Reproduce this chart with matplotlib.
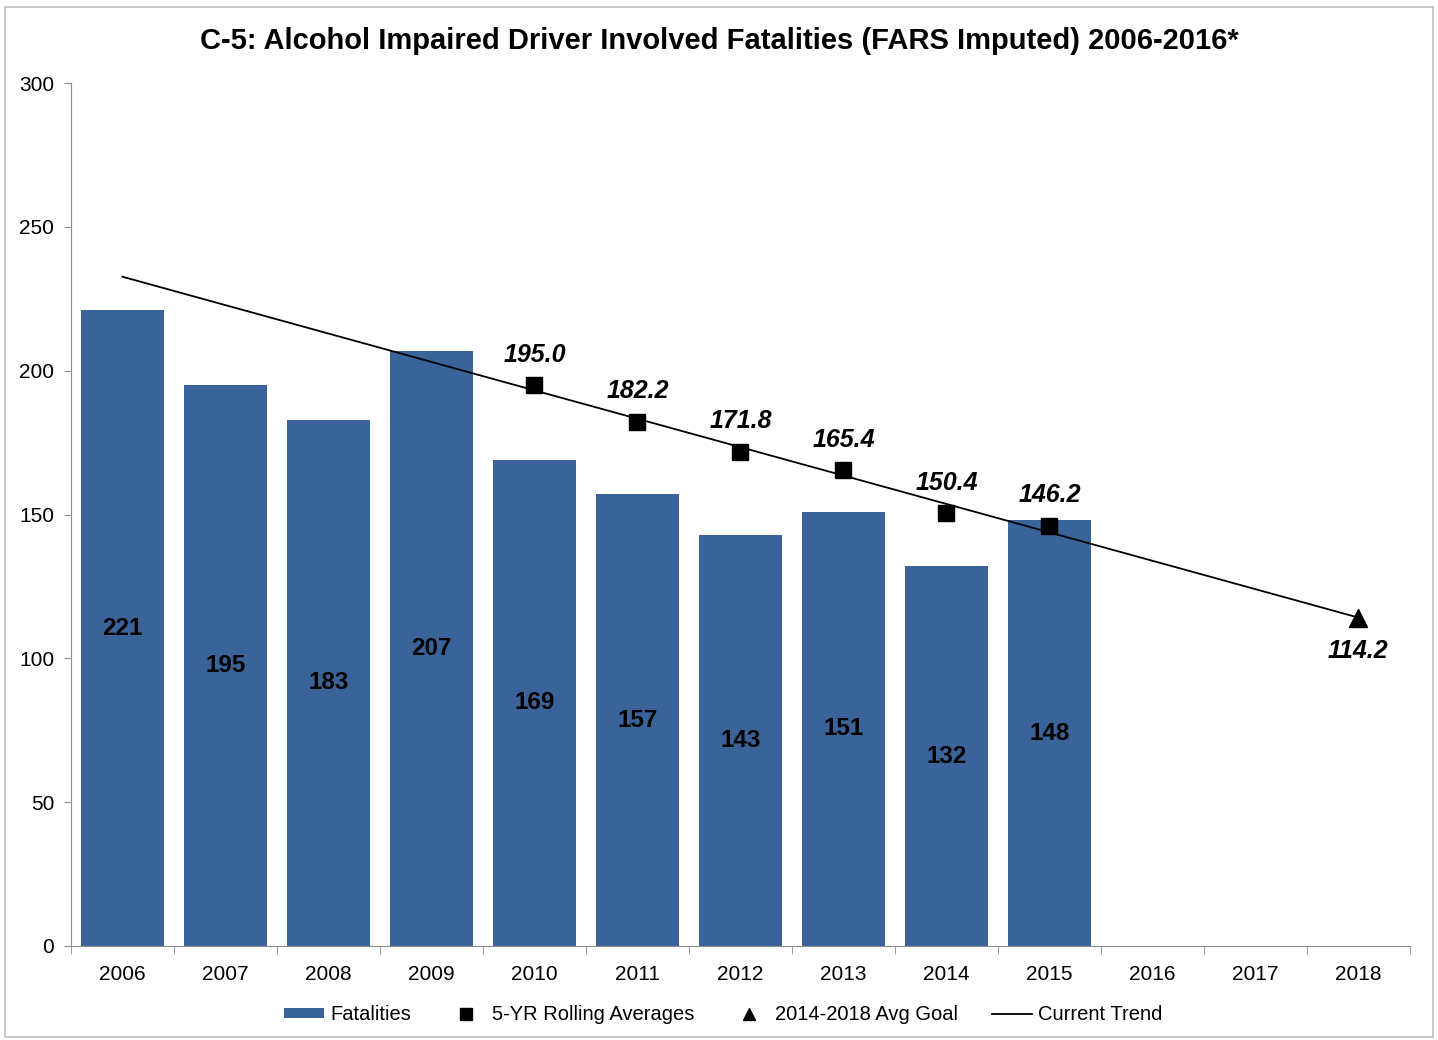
import matplotlib
matplotlib.use("Agg")
import matplotlib.pyplot as plt
from matplotlib.patches import Rectangle
import numpy as np

plt.rcParams['font.family'] = ['Liberation Sans', 'DejaVu Sans']

years = ['2006', '2007', '2008', '2009', '2010', '2011', '2012', '2013', '2014', '2015', '2016', '2017', '2018']
fatalities = [221, 195, 183, 207, 169, 157, 143, 151, 132, 148]
avg_years = ['2010', '2011', '2012', '2013', '2014', '2015']
rolling_avg = [195.0, 182.2, 171.8, 165.4, 150.4, 146.2]
goal_year = '2018'
goal = 114.2
trend_years = ['2006', '2018']
trend = [232.7, 114.2]

bar_color = '#3a6399'
spine_color = '#8c8c8c'

fig = plt.figure(figsize=(14.38, 10.4), dpi=100)
ax = fig.add_axes([0.0494, 0.0904, 0.931, 0.8296])

pos = {y: i for i, y in enumerate(years)}
xb = np.arange(len(fatalities))
ax.bar(xb, fatalities, 0.8, color=bar_color, zorder=2, label='Fatalities')
for x, v in zip(xb, fatalities):
    ax.text(x, v / 2, str(v), ha='center', va='center', fontsize=17.5, fontweight='bold', color='black', zorder=4)

xt = [pos[y] for y in trend_years]
ax.plot(xt, trend, color='black', lw=1.3, zorder=3, label='Current Trend')

xa = [pos[y] for y in avg_years]
ax.plot(xa, rolling_avg, ls='none', marker='s', ms=11, color='black', zorder=5, label='5-YR Rolling Averages')
for x, v in zip(xa, rolling_avg):
    ax.annotate(f'{v:.1f}', (x, v), xytext=(0, 22), textcoords='offset points', ha='center', va='center',
                fontsize=18, fontweight='bold', fontstyle='italic')

ax.plot([pos[goal_year]], [goal], ls='none', marker='^', ms=13, color='black', zorder=5, label='2014-2018 Avg Goal')
ax.annotate(f'{goal:.1f}', (pos[goal_year], goal), xytext=(0, -24), textcoords='offset points', ha='center', va='center',
            fontsize=18, fontweight='bold', fontstyle='italic')

ax.set_xlim(-0.5, len(years) - 0.5)
ax.set_ylim(0, 300)
ax.set_yticks(range(0, 301, 50))
ax.set_xticks(np.arange(len(years)))
ax.set_xticklabels(years)
ax.set_xticks(np.arange(-0.5, len(years)), minor=True)
ax.tick_params(axis='x', which='major', length=0, pad=14, labelsize=15)
ax.tick_params(axis='x', which='minor', length=6, color=spine_color, direction='out')
ax.tick_params(axis='y', length=5, color=spine_color, pad=7, labelsize=15)
for s in ['top', 'right']:
    ax.spines[s].set_visible(False)
for s in ['left', 'bottom']:
    ax.spines[s].set_color(spine_color)

fig.text(0.5, 0.961, 'C-5: Alcohol Impaired Driver Involved Fatalities (FARS Imputed) 2006-2016*',
         ha='center', va='center', fontsize=21, fontweight='bold')

h, l = ax.get_legend_handles_labels()
order = ['Fatalities', '5-YR Rolling Averages', '2014-2018 Avg Goal', 'Current Trend']
hd = dict(zip(l, h))
leg = fig.legend([hd[k] for k in order], order, loc='center', bbox_to_anchor=(0.503, 0.0245), ncol=4,
                 frameon=False, fontsize=14.5, handlelength=2.0, handleheight=0.4, columnspacing=1.7, handletextpad=0.3)
for hdl in leg.legend_handles:
    if hasattr(hdl, 'set_markersize'):
        hdl.set_markersize(9)

fig.patches.append(Rectangle((0.0035, 0.003), 0.993, 0.99, transform=fig.transFigure, fill=False,
                             edgecolor='#bfbfbf', lw=1.2))

fig.savefig('out.png', dpi=100)
